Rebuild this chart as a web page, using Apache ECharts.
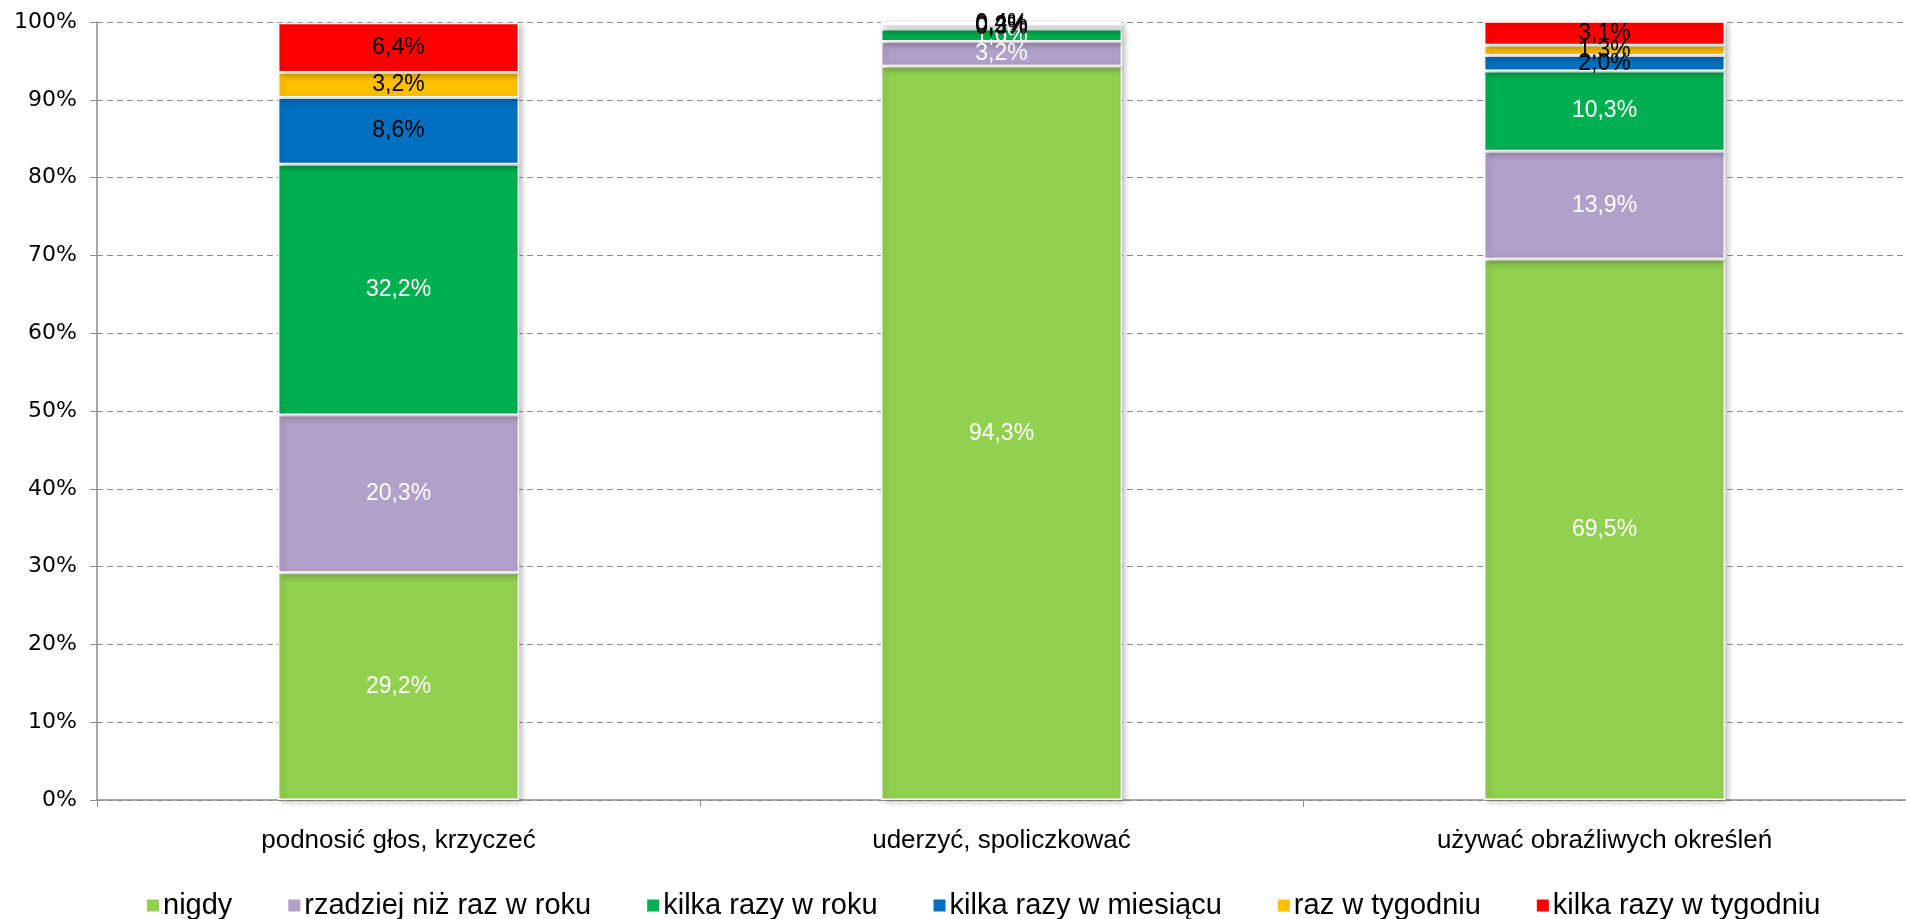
<!DOCTYPE html>
<html><head><meta charset="utf-8">
<script src="https://cdn.jsdelivr.net/npm/echarts@6/dist/echarts.min.js"></script>
<style>html,body{margin:0;padding:0;background:#fff}#c{width:1906px;height:919px}</style>
</head><body><div id="c"></div>
<script>
const categories = ['podnosić głos, krzyczeć', 'uderzyć, spoliczkować', 'używać obraźliwych określeń'];
const seriesNames = ['nigdy', 'rzadziej niż raz w roku', 'kilka razy w roku', 'kilka razy w miesiącu', 'raz w tygodniu', 'kilka razy w tygodniu'];
const nigdy = [29.2, 94.3, 69.5];
const rzadziej = [20.3, 3.2, 13.9];
const kilkaRok = [32.2, 1.6, 10.3];
const kilkaMiesiac = [8.6, 0.3, 2.0];
const razTydzien = [3.2, 0.2, 1.3];
const kilkaTydzien = [6.4, 0.4, 3.1];
const yTicks = [0, 10, 20, 30, 40, 50, 60, 70, 80, 90, 100];

const values = [nigdy, rzadziej, kilkaRok, kilkaMiesiac, razTydzien, kilkaTydzien];
const colors = ['#92d050', '#b1a0c7', '#00b050', '#0070c0', '#ffc000', '#ff0000'];
const labelColors = ['#fff', '#fff', '#fff', '#000', '#000', '#000'];
const font = '"Liberation Sans", "Noto Sans", sans-serif';

const chart = echarts.init(document.getElementById('c'), null, {renderer: 'canvas'});
chart.setOption({
  animation: false,
  textStyle: {fontFamily: font},
  grid: {left: 97, right: 0, top: 22, bottom: 119, containLabel: false},
  legend: {
    bottom: -6, left: 140, itemWidth: 14, itemHeight: 14, itemGap: 54,
    icon: 'rect',
    textStyle: {fontSize: 29, color: '#000', fontFamily: font, padding: [0, 0, 0, -2]},
    data: seriesNames
  },
  xAxis: {
    type: 'category', data: categories,
    axisLine: {lineStyle: {color: '#8c8c8c', width: 1.5}},
    axisTick: {show: true, alignWithLabel: false, length: 7, lineStyle: {color: '#8c8c8c'}},
    axisLabel: {fontSize: 26, color: '#000', margin: 28, fontFamily: font}
  },
  yAxis: {
    type: 'value', min: 0, max: 100, interval: 10,
    axisLine: {show: true, lineStyle: {color: '#8c8c8c', width: 1.5}},
    axisTick: {show: true, length: 7, lineStyle: {color: '#8c8c8c'}},
    splitLine: {lineStyle: {color: '#8c8c8c', type: [6, 4], width: 1}},
    axisLabel: {fontSize: 22, color: '#000', margin: 20, fontFamily: '"DejaVu Sans", sans-serif',
      formatter: v => yTicks.includes(v) ? v + '%' : ''}
  },
  series: values.map((arr, i) => ({
    name: seriesNames[i], type: 'bar', stack: 'total', data: arr,
    barWidth: '40%',
    itemStyle: {color: colors[i], borderColor: '#fff', borderWidth: 1.5,
      shadowColor: 'rgba(0,0,0,0.25)', shadowBlur: 6, shadowOffsetX: 3, shadowOffsetY: 2},
    label: {show: true, position: 'inside', fontSize: 23, color: labelColors[i], fontFamily: font,
      formatter: p => p.value.toFixed(1).replace('.', ',') + '%'}
  }))
});
</script></body></html>
